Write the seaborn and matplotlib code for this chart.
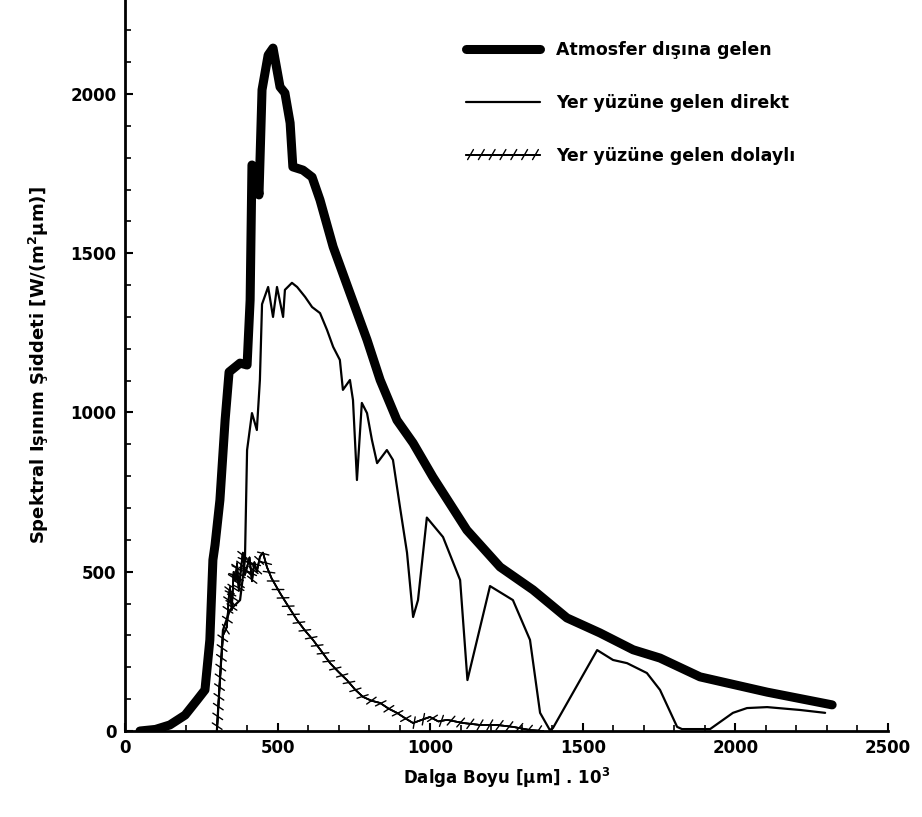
import matplotlib
matplotlib.use("Agg")
import matplotlib.pyplot as plt
import matplotlib.patheffects as pe
from matplotlib.ticker import MultipleLocator
import seaborn as sns
import pandas as pd

# Atmosfer dışına gelen (extraterrestrial)
atm_x = [49, 100, 147, 197, 236, 262, 278, 288, 295, 311, 328, 341, 377, 400, 410, 416,
         429, 439, 449, 469, 485, 508, 524, 541, 550, 583, 613, 639, 682, 737, 793, 836,
         891, 944, 1009, 1120, 1229, 1337, 1448, 1556, 1665, 1753, 1884, 2104, 2317]
atm_y = [0, 5, 19, 50, 97, 129, 286, 537, 584, 725, 976, 1127, 1155, 1149, 1353, 1777,
         1761, 1683, 2013, 2122, 2144, 2022, 2003, 1909, 1771, 1761, 1739, 1667, 1520, 1375, 1228, 1102,
         976, 904, 797, 631, 515, 443, 355, 308, 255, 229, 170, 122, 82]

# Yer yüzüne gelen direkt (direct)
dir_x = [301, 311, 321, 344, 377, 393, 400, 416, 432, 442, 449, 469, 485, 498, 518, 524,
         547, 564, 590, 613, 639, 662, 682, 704, 714, 737, 747, 760, 776, 793, 809, 826,
         858, 878, 901, 924, 944, 960, 989, 1042, 1098, 1122, 1196, 1271, 1327, 1360, 1392,
         1402, 1547, 1599, 1645, 1710, 1753, 1809, 1825, 1917, 1992, 2038, 2104, 2212, 2294]
dir_y = [0, 160, 317, 380, 411, 537, 882, 998, 945, 1102, 1340, 1394, 1300, 1394, 1300, 1385,
         1407, 1394, 1363, 1331, 1312, 1259, 1206, 1165, 1071, 1102, 1039, 788, 1030, 998, 914, 841,
         882, 851, 703, 560, 358, 411, 670, 609, 474, 160, 455, 411, 286, 57, 3,
         9, 254, 223, 213, 182, 129, 13, 6, 6, 57, 72, 75, 66, 57]

# Yer yüzüne gelen dolaylı (diffuse)
dif_x = [301, 311, 321, 334, 340, 344, 350, 356, 362, 367, 373, 380, 386, 393, 400, 408,
         416, 424, 432, 442, 452, 465, 480, 508, 536, 564, 590, 616, 644, 672, 700, 727,
         754, 780, 808, 836, 864, 891, 918, 944, 972, 999, 1027, 1055, 1082, 1108, 1136,
         1163, 1219, 1271, 1327, 1370]
dif_y = [0, 160, 300, 327, 420, 452, 380, 500, 470, 527, 440, 510, 560, 490, 515, 545,
         470, 530, 500, 547, 560, 515, 480, 433, 390, 348, 315, 286, 250, 213, 185, 160,
         130, 107, 95, 88, 70, 57, 40, 25, 35, 44, 30, 35, 30, 25, 22,
         19, 19, 13, 3, 0]

labels = ["Atmosfer dışına gelen", "Yer yüzüne gelen direkt", "Yer yüzüne gelen dolaylı"]

sns.set_style("ticks")
plt.rcParams['font.family'] = ['DejaVu Sans']
plt.rcParams['font.weight'] = 'bold'
plt.rcParams['text.color'] = 'black'
plt.rcParams['axes.labelcolor'] = 'black'
plt.rcParams['xtick.color'] = 'black'
plt.rcParams['ytick.color'] = 'black'
plt.rcParams['axes.edgecolor'] = 'black'

fig = plt.figure(figsize=(9.22, 8.17), dpi=100)
ax = fig.add_axes([125/922, 86/817, (888-125)/922, 731/817])

df_atm = pd.DataFrame({"x": atm_x, "y": atm_y})
df_dir = pd.DataFrame({"x": dir_x, "y": dir_y})
df_dif = pd.DataFrame({"x": dif_x, "y": dif_y})

zigzag = [pe.withTickedStroke(angle=60, spacing=7, length=0.6, linewidth=1.0),
          pe.withTickedStroke(angle=-120, spacing=7, length=0.6, linewidth=1.0),
          pe.Normal()]

sns.lineplot(data=df_atm, x="x", y="y", ax=ax, color="black", lw=6.5,
             solid_joinstyle="round", label=labels[0], sort=False)
sns.lineplot(data=df_dir, x="x", y="y", ax=ax, color="black", lw=1.6,
             label=labels[1], sort=False)
sns.lineplot(data=df_dif, x="x", y="y", ax=ax, color="black", lw=1.2,
             label=labels[2], sort=False, path_effects=zigzag)

ax.set_xlim(0, 2500)
ax.set_ylim(0, 2295)
ax.set_xticks([0, 500, 1000, 1500, 2000, 2500])
ax.set_yticks([0, 500, 1000, 1500, 2000])
ax.xaxis.set_minor_locator(MultipleLocator(100))
ax.yaxis.set_minor_locator(MultipleLocator(100))
ax.tick_params(which='major', direction='in', length=6, width=1.5, labelsize=12, pad=6)
ax.tick_params(which='minor', direction='in', length=4, width=1.2)
for lab in ax.get_xticklabels() + ax.get_yticklabels():
    lab.set_fontweight('bold')

sns.despine(ax=ax)
ax.spines['left'].set_linewidth(2)
ax.spines['bottom'].set_linewidth(2)

ax.set_xlabel("Dalga Boyu [µm] . 10$^3$", fontsize=12, fontweight='bold', labelpad=6)
ax.set_ylabel("Spektral Işınım Şiddeti [W/(m$^2$µm)]", fontsize=13, fontweight='bold', labelpad=14)

leg = ax.legend(loc='upper left', bbox_to_anchor=(0.426, 0.965), frameon=False,
                handlelength=4.3, handletextpad=0.9, labelspacing=2.0,
                prop={'size': 12.5, 'weight': 'bold'})

fig.savefig("out.png", dpi=100)
